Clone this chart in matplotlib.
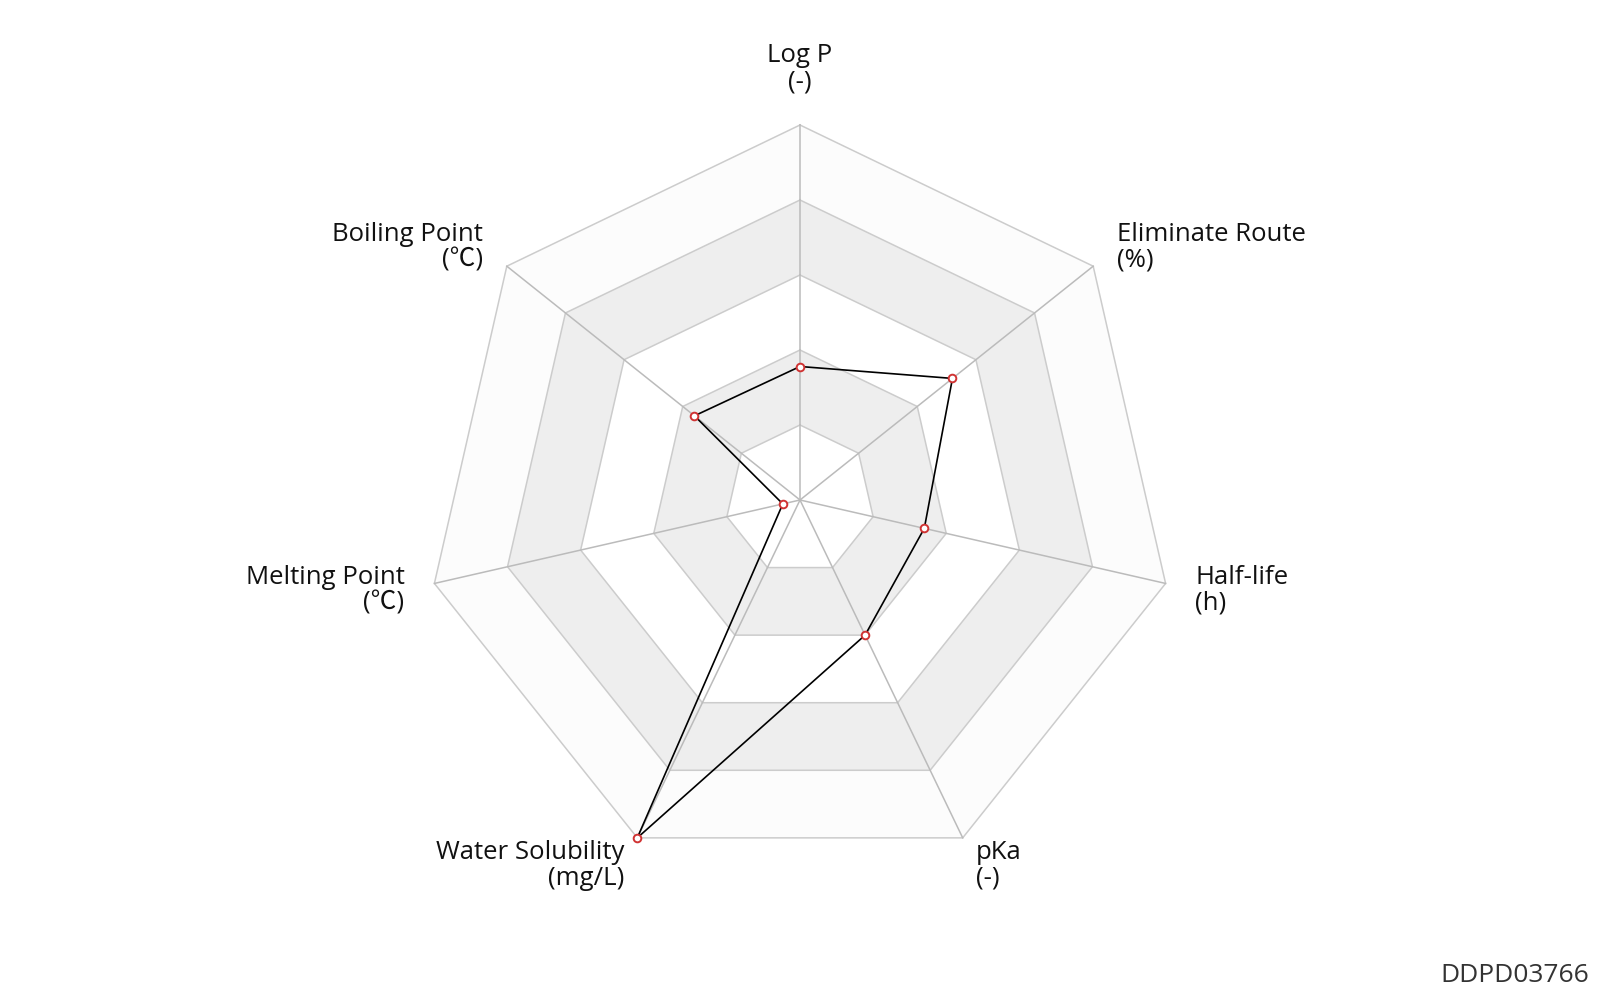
import numpy as np
import matplotlib
matplotlib.use("Agg")
import matplotlib.pyplot as plt

plt.rcParams['font.family'] = ['Open Sans', 'Noto Sans CJK SC', 'DejaVu Sans']

# axes, clockwise from the top
names = ['Log P', 'Eliminate Route', 'Half-life', 'pKa',
         'Water Solubility', 'Melting Point', 'Boiling Point']
units = ['(-)', '(%)', '(h)', '(-)', '(mg/L)', '(℃)', '(℃)']
# normalised values (0..1 of the axis max)
values = [0.356, 0.52, 0.34, 0.40, 1.0, 0.047, 0.36]
levels = [0.2, 0.4, 0.6, 0.8, 1.0]
ring_colors = ['#ffffff', '#eeeeee', '#ffffff', '#eeeeee', '#fcfcfc']

n = len(names)
angles = np.arange(n) * 2 * np.pi / n
closed = np.append(angles, angles[0])

fig = plt.figure(figsize=(16, 10), dpi=100)
ax = fig.add_axes([0.265625, 0.125, 0.46875, 0.75], projection='polar')
ax.set_theta_offset(np.pi / 2)
ax.set_theta_direction(-1)
ax.set_ylim(0, 1)
ax.grid(False)
ax.spines['polar'].set_visible(False)
ax.set_xticks([])
ax.set_yticks([])
ax.patch.set_alpha(0)

# split areas, outer first
for lvl, col in sorted(zip(levels, ring_colors), reverse=True):
    ax.fill(closed, [lvl] * (n + 1), color=col, lw=0, zorder=1, clip_on=False)
for lvl in levels:
    ax.plot(closed, [lvl] * (n + 1), color='#cccccc', lw=1.1, zorder=2, clip_on=False)
for a in angles:
    ax.plot([a, a], [0, 1], color='#bbbbbb', lw=1.1, zorder=2, clip_on=False)

# data
vals = np.append(values, values[0])
ax.plot(closed, vals, color='black', lw=1.2, zorder=3, clip_on=False)
ax.plot(angles, values, 'o', ms=5.5, mfc='white', mec='#d03333', mew=1.4,
        zorder=4, clip_on=False)

# axis names
gap = 22
for a, name, unit in zip(angles, names, units):
    dx = np.sin(a)
    dy = np.cos(a)
    if abs(dx) < 1e-6:
        ha = 'center'
    elif dx > 0:
        ha = 'left'
    else:
        ha = 'right'
    va = 'bottom' if dy > 0.99 else 'center'
    ax.annotate(name + '\n' + unit, xy=(a, 1), xytext=(gap * dx, gap * dy),
                textcoords='offset points', ha=ha, va=va, ma=ha,
                fontsize=18.5, color='#111111', linespacing=1.05, annotation_clip=False)

fig.text(0.993, 0.025, 'DDPD03766', ha='right', va='center', fontsize=19, color='#333333')

fig.savefig('out.png', dpi=100)
